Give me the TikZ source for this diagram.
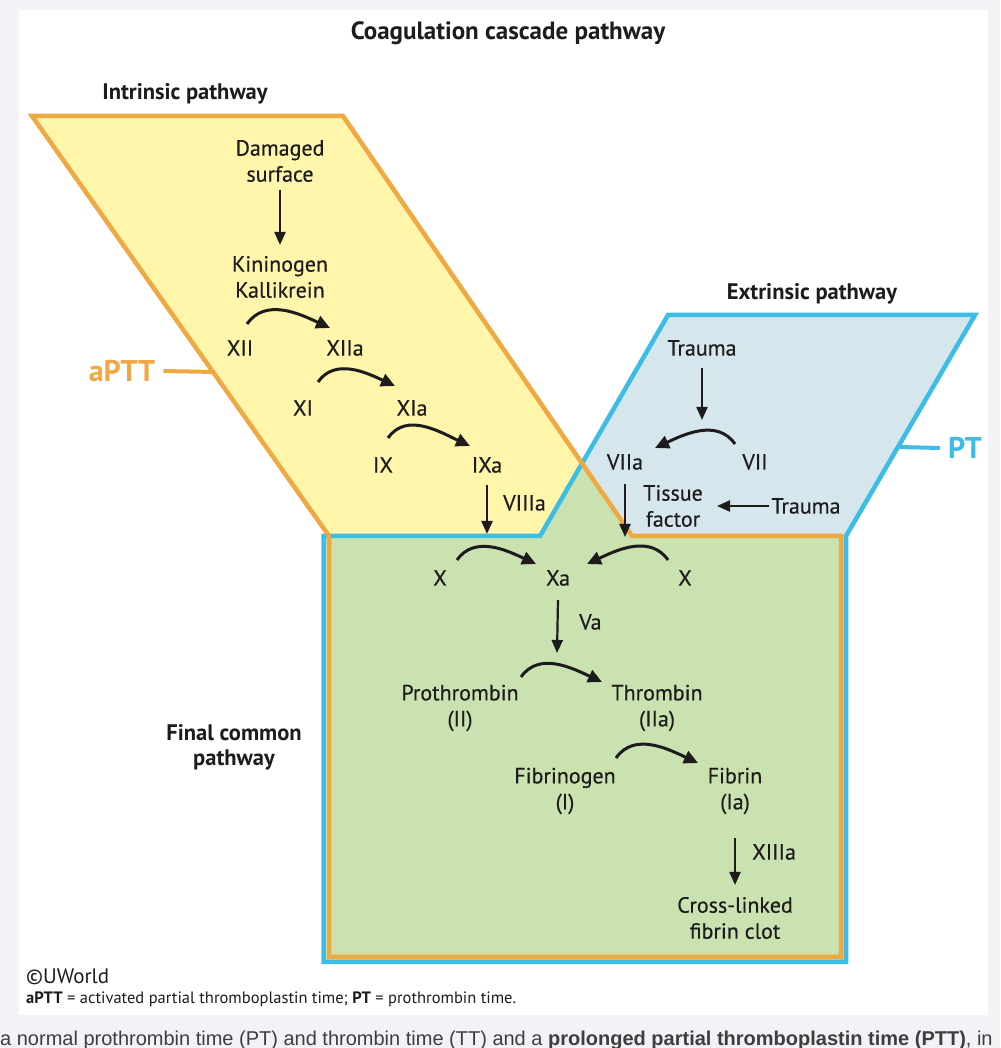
\documentclass[tikz,border=0pt]{standalone}
\usepackage{fontspec}
\setmainfont{PT Sans}
\newfontfamily\labfont{PT Sans}[FakeBold=0.4]
\newfontfamily\arialf{Liberation Sans}
\usetikzlibrary{arrows.meta,calc}
\definecolor{bggray}{HTML}{F3F3F7}
\definecolor{yfill}{HTML}{FFF6AB}
\definecolor{bfill}{HTML}{D5E7EC}
\definecolor{gfill}{HTML}{CAE1B0}
\definecolor{oline}{HTML}{F0A843}
\definecolor{bline}{HTML}{3CBDE6}
\definecolor{ink}{HTML}{1E1B1C}
\begin{document}
\begin{tikzpicture}[x=1pt,y=1pt,
  lbl/.style={inner sep=0pt, align=center, font=\labfont\fontsize{22}{26}\selectfont, text=ink},
  hdr/.style={inner sep=0pt, align=center, font=\fontsize{22.5}{25}\selectfont\bfseries, text=ink},
  ttl/.style={inner sep=0pt, font=\fontsize{25}{28}\selectfont\bfseries, text=ink},
  sarr/.style={draw=ink, line width=2.2pt, -{Triangle[length=13pt,width=11pt]}},
  carr/.style={draw=ink, line width=3pt, -{Triangle[length=14pt,width=13pt]}},
  frameo/.style={draw=oline, line width=4.5pt, line join=miter},
  frameb/.style={draw=bline, line width=4.5pt, line join=miter},
  tag/.style={inner sep=0pt, font=\fontsize{30}{32}\selectfont\bfseries}]
\useasboundingbox (0,0) rectangle (1000,1048);
\clip (0,0) rectangle (1000,1048);
\fill[bggray] (0,0) rectangle (1000,1048);
\fill[white] (19,33) rectangle (988,1038);
% regions
\coordinate (y1) at (32,932);
\coordinate (y2) at (343,932);
\coordinate (y3) at (632,512);
\coordinate (y4) at (329,512);
\coordinate (b1) at (668,733);
\coordinate (b2) at (975,733);
\coordinate (b3) at (846,512);
\coordinate (b4) at (540,512);
\fill[yfill] (y1)--(y2)--(y3)--(y4)--cycle;
\fill[bfill] (b1)--(b2)--(b3)--(b4)--cycle;
\coordinate (cx) at (intersection of y2--y3 and b1--b4);
\fill[gfill] (323,512)--(b4)--(cx)--(y3)--(846,512)--(846,86)--(323,86)--cycle;
\draw[frameb] (b1)--(b2)--(b3)--(846,86)--(323.5,86)--(323.5,512)--(b4)--cycle;
\draw[frameo] (y1)--(y2)--(y3)--(841,512)--(841,91)--(329,91)--(y4)--cycle;
% tags
\node[tag, text=oline] (aptt) at (122,677) {aPTT};
\coordinate (aptthook) at (214,676);
\draw[oline, line width=4pt] ($(aptt.east)+(8,0)$) -- (aptthook);
\node[tag, text=bline] (pt) at (965,600) {PT};
\coordinate (pthook) at (898,601);
\draw[bline, line width=4pt] ($(pt.west)+(-8,0)$) -- (pthook);
% titles
\node[ttl] (title) at (508,1015) {Coagulation cascade pathway};
\node[hdr] (intr) at (185,954) {Intrinsic pathway};
\node[hdr] (extr) at (812,754) {Extrinsic pathway};
\node[hdr] (fcp) at (234,301) {Final common\\pathway};
% labels
\node[lbl] (dmg) at (280,887) {Damaged\\surface};
\node[lbl] (kin) at (280,771) {Kininogen\\Kallikrein};
\node[lbl] (f12) at (240,700) {XII};
\node[lbl] (f12a) at (345,700) {XIIa};
\node[lbl] (f11) at (303,640) {XI};
\node[lbl] (f11a) at (412,640) {XIa};
\node[lbl] (f9) at (383,583) {IX};
\node[lbl] (f9a) at (487,583) {IXa};
\node[lbl, anchor=west] (f8a) at (503,545) {VIIIa};
\node[lbl] (tr1) at (702,700) {Trauma};
\node[lbl] (f7a) at (625,586) {VIIa};
\node[lbl] (f7) at (755,586) {VII};
\node[lbl] (tf) at (673,542) {Tissue\\factor};
\node[lbl] (tr2) at (806,542) {Trauma};
\node[lbl] (f10l) at (440,470) {X};
\node[lbl] (f10a) at (558,470) {Xa};
\node[lbl] (f10r) at (685,470) {X};
\node[lbl, anchor=west] (f5a) at (579,426) {Va};
\node[lbl] (pro) at (460,340) {Prothrombin\\(II)};
\node[lbl] (thr) at (657,340) {Thrombin\\(IIa)};
\node[lbl] (fbg) at (565,257) {Fibrinogen\\(I)};
\node[lbl] (fbn) at (735,257) {Fibrin\\(Ia)};
\node[lbl, anchor=west] (f13a) at (752,196) {XIIIa};
\node[lbl] (clot) at (735,130) {Cross-linked\\fibrin clot};
% arrows
\draw[sarr] ($(dmg.center)+(0,-29)$) -- ($(kin.center)+(0,32)$);
\draw[carr] ($(f12.center)+(7,24)$) to[out=55,in=155] ($(f12a.center)+(-15,20)$);
\draw[carr] ($(f11.center)+(15,26)$) to[out=55,in=155] ($(f11a.center)+(-17,22)$);
\draw[carr] ($(f9.center)+(5,27)$) to[out=55,in=155] ($(f9a.center)+(-17,19)$);
\coordinate (ixend) at (487,514);
\draw[sarr] ($(f9a.center)+(0,-20)$) -- (ixend);
\coordinate (trend) at (702,628);
\draw[sarr] ($(tr1.center)+(0,-20)$) -- (trend);
\draw[carr] ($(f7.center)+(-20,18)$) to[out=125,in=25] ($(f7a.center)+(30,14)$);
\coordinate (viiend) at (625,511);
\draw[sarr] ($(f7a.center)+(0,-22)$) -- (viiend);
\draw[sarr] ($(tr2.west)+(-2,0)$) -- ($(tf.center)+(44,0)$);
\draw[carr] ($(f10l.center)+(17,18)$) to[out=55,in=155] ($(f10a.center)+(-22,14)$);
\draw[carr] ($(f10r.center)+(-17,18)$) to[out=125,in=25] ($(f10a.center)+(29,14)$);
\coordinate (vaend) at (557,395);
\draw[sarr] ($(f10a.center)+(0,-22)$) -- (vaend);
\draw[carr] ($(pro.center)+(61,31)$) to[out=55,in=155] ($(thr.center)+(-55,26)$);
\draw[carr] ($(fbg.center)+(51,33)$) to[out=55,in=155] ($(fbn.center)+(-37,28)$);
\draw[sarr] ($(fbn.center)+(0,-47)$) -- ($(clot.center)+(0,33)$);
% footer
\node[anchor=west, inner sep=0pt, font=\fontsize{21}{22}\selectfont, text=ink] (uw) at (26,71) {©UWorld};
\node[anchor=west, inner sep=0pt, font=\fontsize{16.5}{18}\selectfont, text=ink] (fn) at (26,49) {\textbf{aPTT} = activated partial thromboplastin time; \textbf{PT} = prothrombin time.};
\node[anchor=base west, inner sep=0pt, font=\arialf\fontsize{20}{22}\selectfont, text=ink!85] (bottomtext) at (0,2) {a normal prothrombin time (PT) and thrombin time (TT) and a \textbf{prolonged partial thromboplastin time (PTT)}, in};
\end{tikzpicture}
\end{document}
